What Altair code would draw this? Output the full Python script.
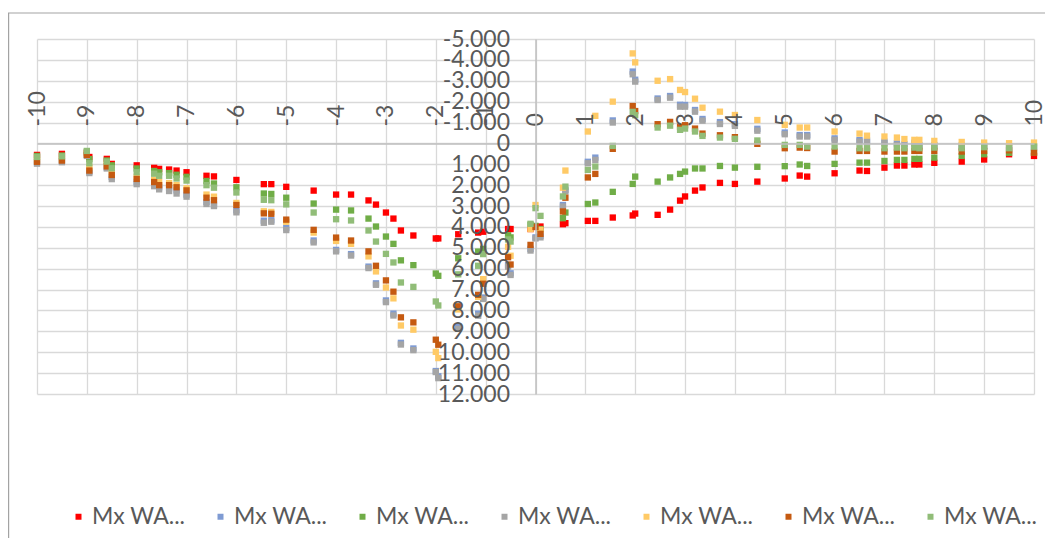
import altair as alt
import pandas as pd

X_POS = [-10, -9.5, -9.0, -8.95, -8.6, -8.5, -8.0, -7.65, -7.55, -7.35,
         -7.2, -7.0, -6.6, -6.45, -6.0, -5.45, -5.3, -5.0, -4.45, -4.0,
         -3.7, -3.35, -3.2, -3.0, -2.85, -2.7, -2.45, -2.0, -1.95, -1.55,
         -1.15, -1.05, -0.55, -0.5, -0.1, 0.0, 0.1, 0.55, 0.6, 1.05,
         1.2, 1.55, 1.95, 2.0, 2.45, 2.7, 2.9, 3.0, 3.2, 3.35,
         3.7, 4.0, 4.45, 5.0, 5.3, 5.45, 6.0, 6.5, 6.65, 7.0,
         7.25, 7.4, 7.6, 7.7, 8.0, 8.55, 9.0, 9.5, 10.0]

RED = [0.55, 0.5, 0.45, 0.65, 0.74, 0.98, 1.05, 1.17, 1.22, 1.25,
       1.3, 1.38, 1.55, 1.58, 1.75, 1.95, 1.95, 2.08, 2.26, 2.45,
       2.45, 2.73, 2.93, 3.31, 3.6, 4.17, 4.41, 4.55, 4.55, 4.35,
       4.27, 4.23, 4.1, 4.1, 4.1, 4.0, 3.98, 3.87, 3.82, 3.71,
       3.71, 3.55, 3.45, 3.36, 3.42, 3.17, 2.74, 2.54, 2.26, 2.11,
       1.89, 1.94, 1.83, 1.68, 1.54, 1.59, 1.43, 1.3, 1.32, 1.16,
       1.06, 1.06, 1.01, 1.01, 0.93, 0.87, 0.77, 0.52, 0.6]

BLUE = [0.9, 0.85, 0.55, 1.35, 1.15, 1.6, 1.85, 1.95, 2.1, 2.15,
        2.25, 2.45, 2.8, 2.92, 3.2, 3.7, 3.68, 4.05, 4.65, 5.1,
        5.3, 5.9, 6.7, 7.52, 8.15, 9.55, 9.82, 10.9, 11.15, 8.78,
        8.15, 7.38, 5.82, 6.22, 5.05, 4.5, 4.42, 2.95, 2.22, 0.88,
        0.68, -1.1, -3.44, -3.05, -2.15, -2.27, -1.85, -1.84, -1.6, -1.17,
        -1.02, -0.92, -0.7, -0.52, -0.4, -0.4, -0.24, -0.16, -0.13, -0.08,
        0.0, 0.04, -0.03, 0.08, 0.08, 0.1, 0.12, 0.15, 0.13]

GREEN = [0.6, 0.58, 0.4, 0.75, 0.82, 1.05, 1.2, 1.32, 1.38, 1.42,
         1.5, 1.6, 1.8, 1.92, 2.1, 2.4, 2.42, 2.6, 2.88, 3.17,
         3.21, 3.6, 3.98, 4.46, 4.81, 5.6, 5.83, 6.23, 6.34, 5.5,
         5.18, 5.05, 4.4, 4.5, 3.9, 3.95, 4.1, 3.58, 3.31, 2.9,
         2.83, 2.32, 1.94, 1.59, 1.83, 1.63, 1.46, 1.35, 1.2, 1.2,
         1.08, 1.16, 1.12, 1.09, 1.01, 1.08, 0.98, 0.92, 0.92, 0.84,
         0.79, 0.79, 0.74, 0.74, 0.68, 0.6, 0.52, 0.45, 0.44]

GRAY = [0.97, 0.9, 0.6, 1.42, 1.2, 1.71, 1.95, 2.05, 2.2, 2.28,
        2.4, 2.55, 2.9, 3.0, 3.3, 3.8, 3.75, 4.15, 4.74, 5.17,
        5.37, 5.97, 6.77, 7.6, 8.24, 9.63, 9.9, 10.95, 11.24, 8.88,
        8.25, 7.45, 5.9, 6.3, 5.13, 4.55, 4.5, 3.02, 2.3, 0.95,
        0.79, -1.0, -3.31, -2.96, -2.08, -2.19, -1.76, -1.76, -1.52, -1.09,
        -0.93, -0.84, -0.61, -0.44, -0.33, -0.33, -0.17, -0.09, -0.06, -0.01,
        0.07, 0.11, 0.04, 0.15, 0.15, 0.17, 0.19, 0.22, 0.2]

YELLOW = [0.82, 0.78, 0.5, 1.15, 1.0, 1.4, 1.6, 1.75, 1.85, 1.9,
          2.0, 2.15, 2.45, 2.55, 2.85, 3.25, 3.28, 3.75, 4.27, 4.67,
          4.81, 5.41, 6.13, 6.9, 7.42, 8.72, 8.92, 9.98, 10.28, 7.95,
          7.35, 6.5, 4.95, 5.38, 4.1, 2.95, 4.14, 2.12, 1.3, -0.57,
          -1.32, -2.0, -4.31, -3.88, -3.0, -3.08, -2.56, -2.46, -2.14, -1.71,
          -1.52, -1.36, -1.12, -0.89, -0.76, -0.76, -0.57, -0.47, -0.37, -0.33,
          -0.28, -0.21, -0.17, -0.17, -0.12, -0.07, -0.04, -0.01, -0.04]

ORANGE = [0.88, 0.82, 0.55, 1.3, 1.1, 1.51, 1.7, 1.85, 2.0, 2.0,
          2.1, 2.25, 2.6, 2.72, 2.95, 3.35, 3.37, 3.65, 4.14, 4.51,
          4.65, 5.17, 5.86, 6.56, 7.1, 8.33, 8.57, 9.4, 9.64, 7.8,
          7.25, 6.72, 5.45, 5.8, 4.86, 4.0, 4.33, 3.26, 2.6, 1.63,
          1.46, 0.26, -1.79, -1.55, -0.92, -1.03, -0.8, -0.87, -0.71, -0.47,
          -0.39, -0.3, 0.02, 0.23, 0.2, 0.22, 0.39, 0.36, 0.36, 0.39,
          0.39, 0.39, 0.36, 0.36, 0.36, 0.39, 0.36, 0.33, 0.44]

LIGHTGREEN = [0.65, 0.62, 0.36, 0.95, 0.87, 1.19, 1.38, 1.45, 1.55, 1.55,
              1.68, 1.78, 2.0, 2.12, 2.35, 2.7, 2.72, 2.92, 3.31, 3.63,
              3.69, 4.17, 4.7, 5.29, 5.7, 6.66, 6.87, 7.57, 7.76, 6.27,
              5.86, 5.3, 4.6, 4.7, 3.85, 3.1, 3.47, 2.54, 2.07, 1.27,
              1.11, 0.12, -1.51, -1.35, -0.76, -0.85, -0.65, -0.71, -0.57, -0.36,
              -0.28, -0.22, -0.14, 0.07, 0.07, 0.15, 0.15, 0.23, 0.23, 0.23,
              0.2, 0.23, 0.2, 0.23, 0.2, 0.23, 0.18, 0.23, 0.15]

SERIES = ["Mx WA1", "Mx WA2", "Mx WA3", "Mx WA4", "Mx WA5", "Mx WA6", "Mx WA7"]
COLORS = ["#ff0000", "#7f9bd3", "#70ad47", "#a5a5a5", "#ffca66", "#c55a11", "#91bd78"]
VALUES = [RED, BLUE, GREEN, GRAY, YELLOW, ORANGE, LIGHTGREEN]

X_TICKS = list(range(-10, 11))
Y_TICKS = list(range(-5, 13))

rows = []
for i, (name, vals) in enumerate(zip(SERIES, VALUES)):
    for x, y in zip(X_POS, vals):
        rows.append({"x": x, "y": y, "serie": name, "ordre": i})
df = pd.DataFrame(rows)

FONT = "Lato"
LABEL_COLOR = "#595959"

x_scale = alt.Scale(domain=[-10, 10], nice=False, zero=False)
y_scale = alt.Scale(domain=[-5, 12], reverse=True, nice=False, zero=False)

points = alt.Chart(df).mark_square(size=40, opacity=1).encode(
    x=alt.X("x:Q", scale=x_scale, title=None,
            axis=alt.Axis(orient="bottom", grid=True, labels=False, ticks=False,
                          domain=False, values=X_TICKS, gridColor="#d9d9d9",
                          gridWidth=1.3)),
    y=alt.Y("y:Q", scale=y_scale, title=None,
            axis=alt.Axis(orient="right", grid=True, labels=False, ticks=False,
                          domain=False, values=Y_TICKS, gridColor="#d9d9d9",
                          gridWidth=1.3)),
    color=alt.Color("serie:N", scale=alt.Scale(domain=SERIES, range=COLORS),
                    legend=alt.Legend(orient="none", legendX=30, legendY=466,
                                      direction="horizontal", columns=7, title=None,
                                      symbolType="square", symbolSize=36,
                                      labelFontSize=23, labelFont=FONT,
                                      labelColor=LABEL_COLOR, labelOffset=2,
                                      columnPadding=23, padding=0,
                                      labelExpr="'Mx WA...'")),
    order=alt.Order("ordre:Q"),
)

axes_layer = alt.Chart(df).mark_point(opacity=0).encode(
    x=alt.X("x:Q", scale=x_scale, title=None,
            axis=alt.Axis(orient="top", offset=-104.5, values=X_TICKS, labelAngle=-90,
                          labelAlign="left", labelBaseline="middle", labelPadding=17.5,
                          ticks=False, tickSize=0, grid=False, domain=True,
                          domainColor="#bfbfbf", domainWidth=1.5,
                          labelFontSize=23, labelFont=FONT, labelColor=LABEL_COLOR,
                          labelOverlap=False, labelFlush=False, zindex=1,
                          labelExpr="toString(datum.value)")),
    y=alt.Y("y:Q", scale=y_scale, title=None,
            axis=alt.Axis(orient="left", offset=-498.5, values=Y_TICKS,
                          labelAlign="right", labelBaseline="middle", labelPadding=26,
                          ticks=False, tickSize=0, grid=False, domain=True,
                          domainColor="#bfbfbf", domainWidth=1.5,
                          labelFontSize=23, labelFont=FONT, labelColor=LABEL_COLOR,
                          labelOverlap=False, labelFlush=False, zindex=1,
                          labelExpr="datum.value == 0 ? '0' : toString(datum.value) + '.000'")),
)

frame = alt.Chart(pd.DataFrame({"k": [0]})).mark_rect(
    fill="transparent", stroke="#a3a3a3", strokeWidth=1.2
).encode(x=alt.value(-28.4), x2=alt.value(1100), y=alt.value(-26), y2=alt.value(700))

chart = alt.layer(frame, points, axes_layer).properties(
    width=997, height=355,
    autosize=alt.AutoSizeParams(type="none"),
    padding={"left": 29, "top": 31, "right": 11, "bottom": 144},
).configure_view(stroke=None)

chart.save("out.html", embed_options={"renderer": "svg", "actions": False})
